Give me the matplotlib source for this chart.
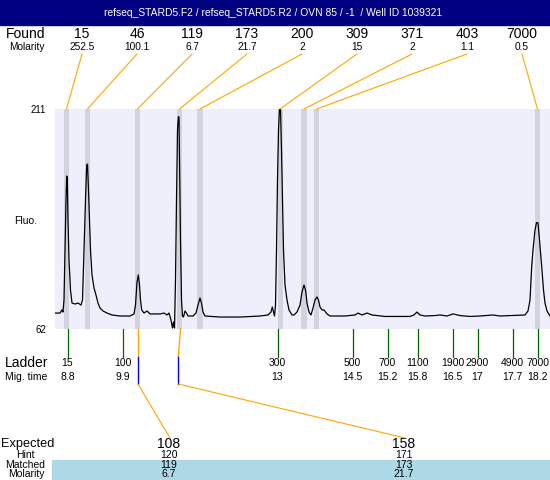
import numpy as np
import matplotlib
matplotlib.use("Agg")
import matplotlib.pyplot as plt
from matplotlib.patches import Rectangle, ConnectionPatch
from matplotlib.transforms import blended_transform_factory

plt.rcParams['font.family'] = ['Liberation Sans', 'DejaVu Sans']

title = "refseq_STARD5.F2 / refseq_STARD5.R2 / OVN 85 / -1  / Well ID 1039321"

# found peaks
found_sizes = ["15", "46", "119", "173", "200", "309", "371", "403", "7000"]
found_molarity = ["252.5", "100.1", "6.7", "21.7", "2", "15", "2", "1.1", "0.5"]
found_times = [8.78, 9.20, 10.20, 11.04, 11.45, 13.05, 13.53, 13.78, 18.20]

# ladder
ladder_sizes = ["15", "100", "300", "500", "700", "1100", "1900", "2900", "4900", "7000"]
ladder_times = [8.8, 9.9, 13.0, 14.5, 15.2, 15.8, 16.5, 17.0, 17.7, 18.2]
ladder_labels = ["8.8", "9.9", "13", "14.5", "15.2", "15.8", "16.5", "17", "17.7", "18.2"]

# expected / matched table
expected = ["108", "158"]
hint = ["120", "171"]
matched = ["119", "173"]
matched_molarity = ["6.7", "21.7"]
matched_times = [10.21, 11.06]
hint_times = [10.21, 11.016]

# electropherogram trace (migration time, fluorescence)
trace_t = [8.55, 8.65, 8.69, 8.71, 8.73, 8.75, 8.77, 8.784, 8.796, 8.81, 8.83, 8.86,
           8.89, 8.95, 9.01, 9.07, 9.10, 9.13, 9.16, 9.184, 9.20, 9.22, 9.24, 9.26,
           9.29, 9.33, 9.37, 9.41, 9.45, 9.51, 9.59, 9.69, 9.85, 10.05, 10.13, 10.16,
           10.19, 10.216, 10.24, 10.26, 10.284, 10.33, 10.39, 10.45, 10.55, 10.65,
           10.73, 10.79, 10.83, 10.87, 10.90, 10.92, 10.94, 10.96, 10.98, 11.00,
           11.016, 11.03, 11.04, 11.06, 11.08, 11.10, 11.12, 11.15, 11.18, 11.21,
           11.31, 11.37, 11.41, 11.45, 11.48, 11.51, 11.55, 11.85, 12.25, 12.65,
           12.81, 12.87, 12.896, 12.92, 12.94, 12.96, 12.98, 13.00, 13.02, 13.04,
           13.06, 13.08, 13.10, 13.12, 13.15, 13.19, 13.23, 13.29, 13.33, 13.39,
           13.45, 13.49, 13.53, 13.56, 13.59, 13.63, 13.67, 13.71, 13.75, 13.79,
           13.82, 13.85, 13.89, 13.93, 13.99, 14.05, 14.35, 14.55, 14.61, 14.69,
           14.79, 14.89, 15.15, 15.65, 15.73, 15.79, 15.85, 15.95, 16.15, 16.25,
           16.39, 16.51, 16.65, 16.85, 17.05, 17.31, 17.45, 17.65, 17.95, 18.01,
           18.05, 18.084, 18.11, 18.15, 18.18, 18.21, 18.24, 18.284, 18.32, 18.35,
           18.39, 18.45]
trace_f = [72.8, 72.8, 74.9, 73.5, 81.6, 115.5, 149.3, 165.6, 164.2, 135.8, 108.7, 88.4,
           79.6, 78.9, 79.6, 78.2, 81.6, 115.5, 149.3, 173.0, 173.7, 156.1, 135.8, 115.5,
           98.6, 89.8, 85.0, 79.6, 76.2, 74.2, 72.8, 71.5, 70.8, 70.8, 72.2, 78.2,
           93.8, 98.6, 91.8, 81.6, 74.9, 72.8, 74.2, 72.2, 72.2, 72.2,
           72.8, 71.5, 72.8, 68.1, 62.7, 66.7, 62.7, 95.2, 149.3, 196.7,
           205.8, 205.5, 176.4, 122.3, 81.6, 70.8, 70.1, 74.2, 72.8, 70.8,
           70.8, 72.8, 78.2, 83.0, 79.6, 73.5, 70.8, 70.1, 70.1, 70.8,
           71.5, 73.5, 76.9, 73.5, 70.8, 78.2, 115.5, 162.9, 196.7, 211.6,
           211.6, 183.2, 149.3, 115.5, 91.8, 81.6, 74.9, 71.5, 71.5, 73.5,
           78.2, 87.0, 91.8, 88.4, 79.6, 73.5, 71.5, 76.2, 81.6, 83.7,
           81.6, 76.9, 74.9, 74.9, 72.2, 70.8, 70.8, 71.5, 72.8, 71.5,
           72.8, 71.5, 70.5, 70.5, 71.5, 73.5, 71.5, 70.8, 71.1, 71.5,
           70.8, 72.2, 71.1, 70.5, 70.8, 71.5, 70.8, 71.1, 71.5, 74.2,
           81.6, 104.2, 115.5, 129.0, 134.1, 133.8, 122.3, 104.2, 88.4, 79.6,
           74.2, 70.8]

ORANGE = '#FFA500'
GREEN = '#006400'

fig = plt.figure(figsize=(5.5, 4.8), dpi=100)
bg = fig.add_axes([0, 0, 1, 1])
bg.set_xlim(0, 550)
bg.set_ylim(480, 0)
bg.axis('off')

ax = fig.add_axes([55 / 550, (480 - 329) / 480, 495 / 550, 220 / 480])
ax.set_autoscale_on(False)
ax.set_xlim(8.55, 18.45)
ax.set_ylim(62, 211)
ax.set_facecolor('#EFEFFC')
ax.set_xticks([])
ax.set_yticks([])
for s in ax.spines.values():
    s.set_visible(False)

# header
bg.add_patch(Rectangle((0, 0), 550, 25, color='#000080'))
bg.text(273, 12.5, title, color='white', fontsize=7.4, ha='center', va='center')

# peak bands + trace
for t in found_times:
    ax.axvspan(t - 0.05, t + 0.05, color='#D3D3E0', lw=0, zorder=1)
ax.plot(trace_t, trace_f, color='black', lw=0.9, zorder=2)

bg.text(46, 110, "211", fontsize=7, ha='right', va='center')
bg.text(46, 330, "62", fontsize=7, ha='right', va='center')
bg.text(26, 221, "Fluo.", fontsize=7.5, ha='center', va='center')

# found row
bg.text(26, 34, "Found", fontsize=10, ha='center', va='center')
bg.text(27, 46.5, "Molarity", fontsize=7.3, ha='center', va='center')
label_x = 82 + 55 * np.arange(len(found_sizes))
for lx, size, mol, t in zip(label_x, found_sizes, found_molarity, found_times):
    bg.text(lx, 34, size, fontsize=10, ha='center', va='center')
    bg.text(lx, 46.5, mol, fontsize=7.3, ha='center', va='center')
    con = ConnectionPatch(xyA=(lx, 54), coordsA=bg.transData,
                          xyB=(t, 211), coordsB=ax.transData,
                          color=ORANGE, lw=0.8)
    fig.add_artist(con)

# ladder
trans = blended_transform_factory(ax.transData, bg.transData)
bg.text(27, 363, "Ladder", fontsize=10, ha='center', va='center')
bg.text(26, 377, "Mig. time", fontsize=7.5, ha='center', va='center')
for t, size, lab in zip(ladder_times, ladder_sizes, ladder_labels):
    ax.plot([t, t], [329, 357], transform=trans, color=GREEN, lw=0.9, clip_on=False)
    ax.text(t, 363, size, transform=trans, fontsize=7.5, ha='center', va='center')
    ax.text(t, 377, lab, transform=trans, fontsize=7.5, ha='center', va='center')

# expected / matched
bg.add_patch(Rectangle((52, 460), 498, 20, color='#ADD8E6', lw=0))
bg.text(1, 443.5, "Expected", fontsize=9.2, ha='left', va='center')
bg.text(25, 455, "Hint", fontsize=7.5, ha='center', va='center')
bg.text(25, 465, "Matched", fontsize=7.5, ha='center', va='center')
bg.text(26, 474, "Molarity", fontsize=7.5, ha='center', va='center')
exp_x = [169, 404]
for ex, e, h, m, mm, mt, ht in zip(exp_x, expected, hint, matched, matched_molarity,
                                  matched_times, hint_times):
    ax.plot([mt, ht], [329, 357], transform=trans, color=ORANGE, lw=1.0, clip_on=False)
    ax.plot([ht, ht], [357, 384], transform=trans, color='#0000FF', lw=1.0, clip_on=False)
    fig.add_artist(ConnectionPatch(xyA=(ht, 384), coordsA=trans,
                                   xyB=(ex + 1, 438), coordsB=bg.transData, color=ORANGE, lw=0.8))
    bg.text(ex, 443.5, e, fontsize=10, ha='center', va='center')
    bg.text(ex, 455, h, fontsize=7.5, ha='center', va='center')
    bg.text(ex, 465, m, fontsize=7.5, ha='center', va='center')
    bg.text(ex, 474, mm, fontsize=7.5, ha='center', va='center')

fig.savefig("out.png", dpi=100)
